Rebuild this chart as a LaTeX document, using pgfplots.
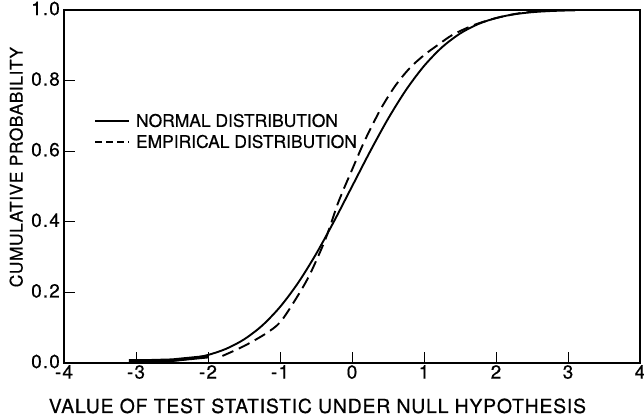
\documentclass[border=0pt]{standalone}
\usepackage{pgfplots}
\pgfplotsset{compat=1.18}
\usepackage{fontspec}
\setmainfont{TeX Gyre Heros}[FakeBold=0.5]
\begin{document}
\begin{tikzpicture}
\begin{axis}[
  name=ax,
  scale only axis, width=576bp, height=353bp,
  xmin=-4, xmax=4, ymin=0, ymax=1,
  axis line style={line width=1.4bp},
  xtick={-4,-3,-2,-1,0,1,2,3,4},
  xticklabels={-4,-3,-2,-1,0,1,2,3,4},
  ytick={0,0.2,0.4,0.6,0.8,1},
  yticklabels={0.0,0.2,0.4,0.6,0.8,1.0},
  tick align=inside, xtick pos=bottom, ytick pos=left,
  major tick length=11bp,
  tick style={line width=1bp, black},
  ticklabel style={font=\fontsize{19}{19}\selectfont\addfontfeature{LetterSpace=6}},
  xticklabel style={inner sep=2bp},
  yticklabel style={inner sep=4bp, yshift=1.5bp},
  xlabel={VALUE OF TEST STATISTIC UNDER NULL HYPOTHESIS},
  ylabel={CUMULATIVE PROBABILITY},
  xlabel style={font=\fontsize{19.5}{20}\selectfont\addfontfeature{LetterSpace=4},
    at={(rel axis cs:0.44,-0.1416)}, anchor=base},
  ylabel style={font=\fontsize{17.5}{20}\selectfont\addfontfeature{LetterSpace=3},
    at={(rel axis cs:-0.083,0.555)}, anchor=center, rotate=0},
  legend style={draw=none, fill=none, at={(rel axis cs:0.052,0.712)}, anchor=north west,
    font=\fontsize{17.5}{17.5}\selectfont, row sep=2.5bp, inner sep=0pt},
  legend cell align=left,
  legend image code/.code={\draw[#1] (0bp,0bp) -- (34bp,0bp); \path (38bp,0bp);},
]
\addplot[black, line width=1.9bp, smooth, forget plot] coordinates {
(-3.1,0.001) (-3.0,0.0013) (-2.75,0.003) (-2.5,0.0062) (-2.25,0.0122)
(-2.0,0.0228) (-1.75,0.0401) (-1.5,0.0668) (-1.25,0.1056) (-1.0,0.1587)
(-0.75,0.2266) (-0.5,0.3085) (-0.25,0.4013) (0,0.5) (0.25,0.5987)
(0.5,0.6915) (0.75,0.7734) (1.0,0.8413) (1.25,0.8944) (1.5,0.9332)
(1.75,0.9599) (2.0,0.9772) (2.25,0.9878) (2.5,0.9938) (2.75,0.997)
(3.0,0.9987) (3.1,0.999)
};
\addplot[black, line width=1.9bp, smooth, dash pattern=on 12bp off 6bp, forget plot] coordinates {
(-1.8,0.02) (-1.5,0.048) (-1.2,0.083) (-1.0,0.115) (-0.8,0.175)
(-0.6,0.245) (-0.4,0.335) (-0.3,0.39) (-0.2,0.45) (-0.1,0.50)
(0.0,0.547) (0.1,0.595) (0.2,0.64) (0.4,0.72) (0.6,0.785)
(0.8,0.835) (1.0,0.872) (1.2,0.902) (1.4,0.93) (1.7,0.958)
(2.0,0.977) (2.3,0.99) (2.6,0.997) (2.8,0.999)
};
\addplot[black, line width=3.5bp, forget plot] coordinates {
(-3.1,0.006) (-2.85,0.006) (-2.5,0.008) (-2.0,0.018)
};
\addlegendimage{black, line width=1.9bp}
\addlegendentry{NORMAL DISTRIBUTION}
\addlegendimage{black, line width=1.9bp, dash pattern=on 7bp off 4bp}
\addlegendentry{EMPIRICAL DISTRIBUTION}
\end{axis}
\pgfresetboundingbox
\path[use as bounding box] ([shift={(-64bp,-53bp)}]ax.south west) rectangle ([shift={(4bp,10bp)}]ax.north east);
\end{tikzpicture}
\end{document}
